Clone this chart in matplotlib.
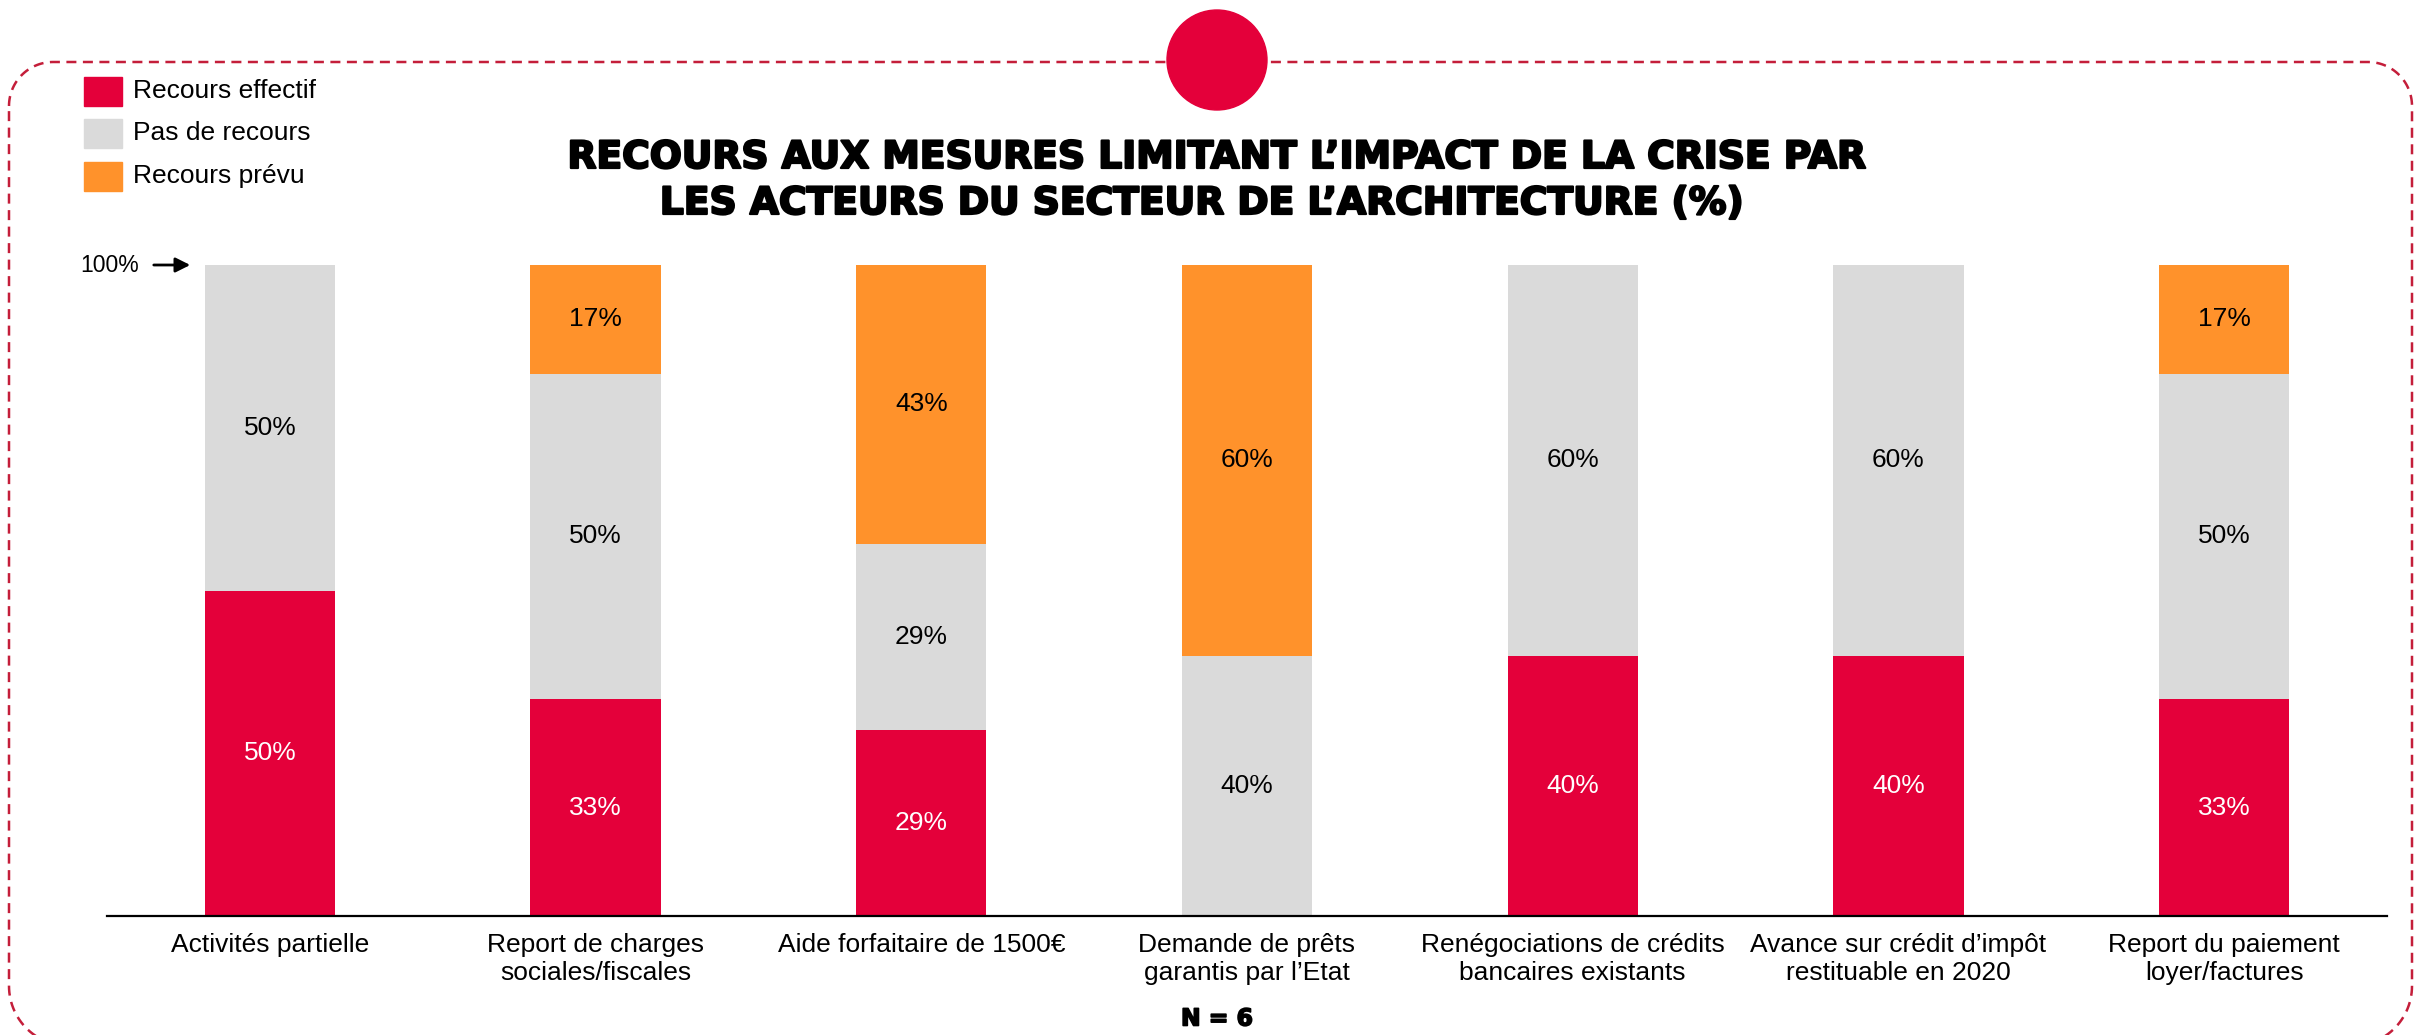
import matplotlib
matplotlib.use("Agg")
import matplotlib.pyplot as plt
import numpy as np
from matplotlib.patches import Rectangle, Ellipse
import matplotlib.patheffects as pe

# ---------------- data ----------------
categories = [
    "Activités partielle",
    "Report de charges\nsociales/fiscales",
    "Aide forfaitaire de 1500€",
    "Demande de prêts\ngarantis par l’Etat",
    "Renégociations de crédits\nbancaires existants",
    "Avance sur crédit d’impôt\nrestituable en 2020",
    "Report du paiement\nloyer/factures",
]
recours_effectif = [50, 33.3, 28.6, 0, 40, 40, 33.3]
pas_de_recours = [50, 50, 28.6, 40, 60, 60, 50]
recours_prevu = [0, 16.7, 42.8, 60, 0, 0, 16.7]
series_names = ["Recours effectif", "Pas de recours", "Recours prévu"]
title_lines = ["RECOURS AUX MESURES LIMITANT L’IMPACT DE LA CRISE PAR",
               "LES ACTEURS DU SECTEUR DE L’ARCHITECTURE (%)"]
footnote = "N = 6"

RED = "#E4003A"
GRAY = "#DADADA"
ORANGE = "#FF922B"
BORDER = "#C41E3A"
FONT = "Liberation Sans"

W, H = 2415, 1035
fig = plt.figure(figsize=(W / 100, H / 100), dpi=100)
fig.patch.set_facecolor("white")

# ---------------- main chart ----------------
ax = fig.add_axes([107 / W, (H - 916) / H, 2280 / W, 651 / H])
x = list(range(len(categories)))
bw = 0.4
series = [recours_effectif, pas_de_recours, recours_prevu]
colors = [RED, GRAY, ORANGE]
txtcol = ["white", "black", "black"]
bottoms = [0.0] * len(categories)
for vals, c, tc in zip(series, colors, txtcol):
    ax.bar(x, vals, bw, bottom=bottoms, color=c, edgecolor="none", zorder=2)
    for i, v in enumerate(vals):
        if v > 0:
            ax.text(i, bottoms[i] + v / 2, f"{round(v)}%", ha="center", va="center",
                    color=tc, fontsize=19, family=FONT, zorder=3)
    bottoms = [b + v for b, v in zip(bottoms, vals)]

ax.set_xlim(-0.5, 6.5)
ax.set_ylim(0, 100)
for s in ["top", "right", "left"]:
    ax.spines[s].set_visible(False)
ax.spines["bottom"].set_linewidth(1.6)
ax.spines["bottom"].set_color("black")
ax.set_yticks([])
ax.set_xticks(x)
ax.set_xticklabels(categories, fontsize=19, family=FONT, linespacing=1.25)
ax.tick_params(axis="x", length=0, pad=12)
ax.set_facecolor("none")

# ---------------- overlay (pixel coordinates) ----------------
ov = fig.add_axes([0, 0, 1, 1], zorder=-1)
ov.set_xlim(0, W)
ov.set_ylim(H, 0)
ov.axis("off")

# dashed rounded frame (decoration), bottom edge lies just below the canvas
L, T, R, B = 9, 62, 2412, 1046
rt, rb = 44, 60
def arc(cx, cy, r, a0, a1, n=30):
    a = np.linspace(np.radians(a0), np.radians(a1), n)
    return cx + r * np.cos(a), cy + r * np.sin(a)
segs = [
    arc(L + rt, T + rt, rt, 180, 270),
    arc(R - rt, T + rt, rt, 270, 360),
    arc(R - rb, B - rb, rb, 0, 90),
    arc(L + rb, B - rb, rb, 90, 180),
]
bx = np.concatenate([s[0] for s in segs])
by = np.concatenate([s[1] for s in segs])
bx = np.append(bx, bx[0])
by = np.append(by, by[0])
ov.plot(bx, by, color=BORDER, lw=1.8, linestyle=(0, (4, 2.6)), solid_capstyle="butt")
ov.add_patch(Ellipse((1217, 60), 100, 100, color=RED, zorder=5))

# legend
for k, (name, c) in enumerate(zip(series_names, colors)):
    yc = 91 + k * 42.5
    ov.add_patch(Rectangle((84, yc - 14.5), 38, 29, color=c))
    ov.text(133, yc, name, fontsize=19, family=FONT, va="center", ha="left")

# 100% marker
ov.text(139, 265, "100%", fontsize=16.5, family=FONT, va="center", ha="right")
ov.annotate("", xy=(193, 265), xytext=(151, 265),
            arrowprops=dict(arrowstyle="-|>", color="black", lw=2, mutation_scale=22))

# title
t1 = ov.text(1217, 158, title_lines[0], fontsize=26, family="DejaVu Sans",
             fontweight="bold", ha="center", va="center")
t2 = ov.text(1202, 204, title_lines[1], fontsize=26, family="DejaVu Sans",
             fontweight="bold", ha="center", va="center")
fn = ov.text(1217, 1019, footnote, fontsize=17, family="DejaVu Sans",
             fontweight="bold", ha="center", va="center")
fig.canvas.draw()
r = fig.canvas.get_renderer()
scale = 1301 / t1.get_window_extent(r).width
for t in (t1, t2):
    t.set_fontsize(26 * scale)
    t.set_path_effects([pe.withStroke(linewidth=1.6, foreground="black")])
sc2 = 72 / fn.get_window_extent(r).width
fn.set_fontsize(17 * sc2)
fn.set_path_effects([pe.withStroke(linewidth=1.2, foreground="black")])

fig.savefig("out.png", dpi=100, facecolor="white")
